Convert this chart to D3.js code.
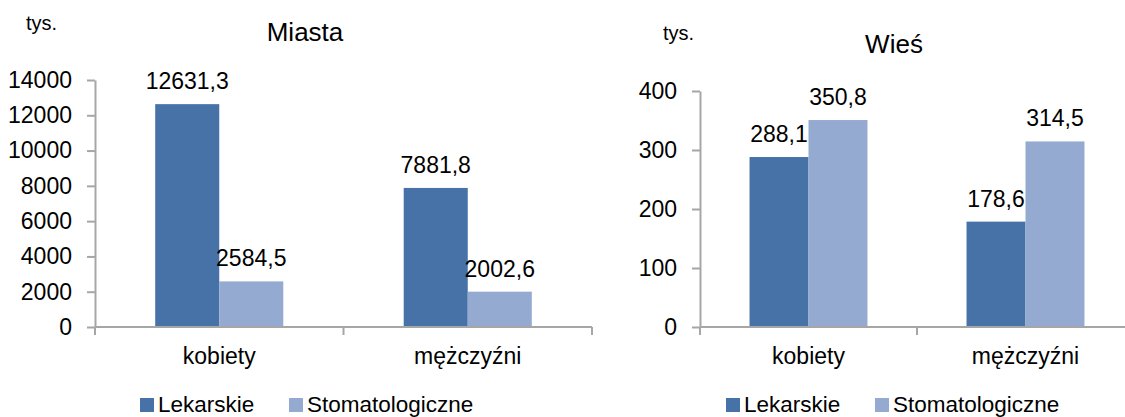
<!DOCTYPE html>
<html>
<head>
<meta charset="utf-8">
<script src="https://cdn.jsdelivr.net/npm/d3@7"></script>
<style>
  body { margin: 0; background: #fff; }
  svg { display: block; font-family: "Liberation Sans", Arial, sans-serif; }
</style>
</head>
<body>
<script>
// data
const categories = ["kobiety", "mężczyźni"]
const seriesNames = ["Lekarskie", "Stomatologiczne"]
const miastaLekarskie = [12631.3, 7881.8]
const miastaStomatologiczne = [2584.5, 2002.6]
const wiesLekarskie = [288.1, 178.6]
const wiesStomatologiczne = [350.8, 314.5]
const miastaTicks = [0, 2000, 4000, 6000, 8000, 10000, 12000, 14000]
const wiesTicks = [0, 100, 200, 300, 400]

const colors = ["#4672a8", "#95aad0"]
const fmt = d3.formatLocale({decimal: ",", thousands: "", grouping: [3], currency: ["", ""]}).format(".1f")

let svg = d3.select("body").append("svg")
  .attr("width", 1125)
  .attr("height", 417)

function chart(opts) {
  let g = svg.append("g")
  let values = [opts.lek, opts.stom]

  // scales
  let y = d3.scaleLinear().domain([0, d3.max(opts.ticks)]).range([opts.bottom, opts.top])
  let x0 = d3.scaleBand().domain(categories).range([opts.left, opts.right])
  let x1 = d3.scaleBand().domain(seriesNames).range([0, x0.bandwidth()])
    .paddingInner(0).paddingOuter(opts.pad)

  // bars
  seriesNames.forEach((s, si) => {
    g.selectAll(".bar" + si)
      .data(categories)
      .enter().append("rect")
      .attr("x", d => x0(d) + x1(s))
      .attr("y", (d, i) => y(values[si][i]))
      .attr("width", x1.bandwidth())
      .attr("height", (d, i) => opts.bottom - y(values[si][i]))
      .style("fill", colors[si])

    g.selectAll(".lab" + si)
      .data(categories)
      .enter().append("text")
      .attr("x", d => x0(d) + x1(s) + x1.bandwidth() / 2)
      .attr("y", (d, i) => y(values[si][i]) - 15)
      .attr("text-anchor", "middle")
      .style("font-size", "23px")
      .text((d, i) => fmt(values[si][i]))
  })

  // y axis
  let ya = g.append("g")
    .attr("transform", "translate(" + opts.left + ",0)")
    .call(d3.axisLeft(y).tickValues(opts.ticks).tickFormat(d3.format("d"))
      .tickSize(8).tickSizeOuter(0).tickPadding(15))
  ya.selectAll("line, path").attr("stroke", "#a6a6a6").attr("stroke-width", 2)
  ya.selectAll("text").style("font-size", "23px").attr("fill", "#000").attr("font-family", null)

  // x axis: line plus ticks between categories
  let bounds = [opts.left, opts.left + x0.bandwidth(), opts.right]
  g.append("line")
    .attr("x1", opts.left).attr("x2", opts.right)
    .attr("y1", opts.bottom).attr("y2", opts.bottom)
    .attr("stroke", "#a6a6a6").attr("stroke-width", 2)
  g.selectAll(".xt").data(bounds).enter().append("line")
    .attr("x1", d => d).attr("x2", d => d)
    .attr("y1", opts.bottom).attr("y2", opts.bottom + 8)
    .attr("stroke", "#a6a6a6").attr("stroke-width", 2)
  g.selectAll(".xl").data(categories).enter().append("text")
    .attr("x", d => x0(d) + x0.bandwidth() / 2)
    .attr("y", 364)
    .attr("text-anchor", "middle")
    .style("font-size", "23px")
    .text(d => d)

  // title and unit
  g.append("text").attr("x", opts.titleX).attr("y", opts.titleY)
    .attr("text-anchor", "middle").style("font-size", "26px").text(opts.title)
  g.append("text").attr("x", opts.unitX).attr("y", opts.unitY)
    .style("font-size", "20px").text("tys.")

  // legend
  seriesNames.forEach((s, si) => {
    g.append("rect")
      .attr("x", opts.legendX[si]).attr("y", 398)
      .attr("width", 14).attr("height", 14)
      .style("fill", colors[si])
    g.append("text")
      .attr("x", opts.legendX[si] + 18).attr("y", 412)
      .style("font-size", "22.5px")
      .text(s)
  })
}

chart({
  lek: miastaLekarskie, stom: miastaStomatologiczne, ticks: miastaTicks,
  left: 95, right: 592, top: 80, bottom: 327, pad: 0.94,
  title: "Miasta", titleX: 305, titleY: 41, unitX: 26, unitY: 30,
  legendX: [140, 289]
})

chart({
  lek: wiesLekarskie, stom: wiesStomatologiczne, ticks: wiesTicks,
  left: 700, right: 1134, top: 91, bottom: 327, pad: 0.84,
  title: "Wieś", titleX: 894, titleY: 53, unitX: 663, unitY: 40,
  legendX: [726, 875]
})
</script>
</body>
</html>
